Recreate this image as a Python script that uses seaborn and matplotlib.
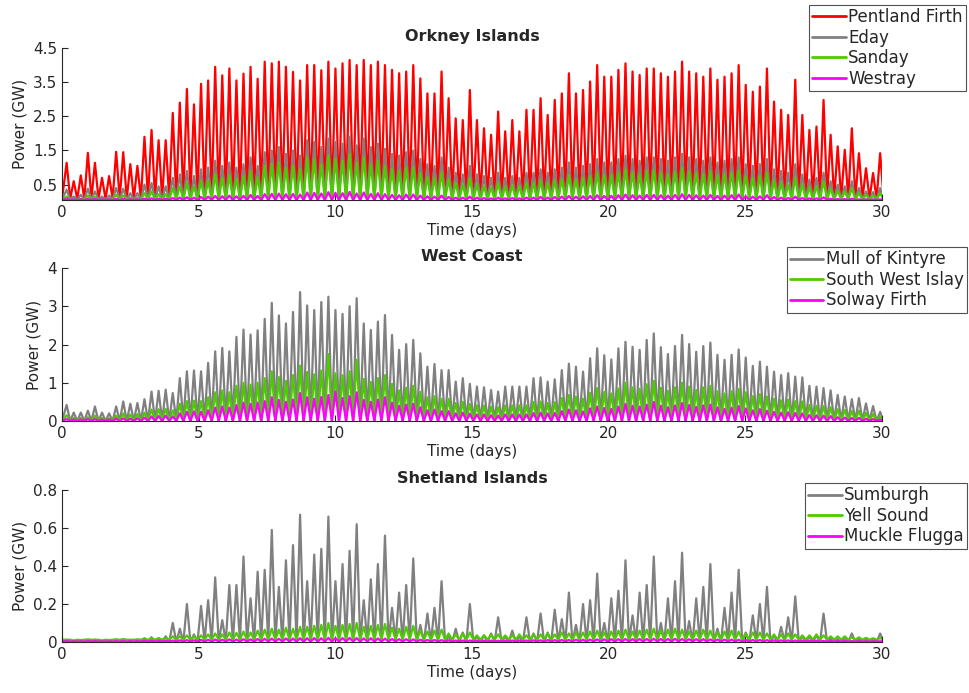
import numpy as np
import pandas as pd
import matplotlib
matplotlib.use("Agg")
import matplotlib.pyplot as plt
import seaborn as sns

# power peaks, one per half tidal cycle (~6.2 h) (GW)
period = 0.2588   # days between power peaks
t_first = 0.17    # time of first peak (days)

# --- Orkney Islands ---
pentland = [1.14, 0.6, 0.77, 1.43, 1.14, 0.7, 0.75, 1.46, 1.45, 1.1, 1.05, 1.9, 2.1, 1.8, 1.8, 2.6,
            2.9, 3.3, 2.85, 3.45, 3.55, 3.95, 3.7, 3.9, 3.55, 3.75, 3.95, 3.6, 4.1, 4.05, 4.1, 3.95,
            3.8, 3.55, 4.0, 4.0, 3.85, 4.1,
            3.9, 4.05, 4.15, 4.0, 4.15, 4.0, 4.1, 4.0, 3.86, 3.76, 3.81, 4.0, 3.61, 3.17, 3.17, 3.81,
            3.03, 2.44, 2.39, 3.27, 2.39, 2.15, 1.96, 2.64, 2.06, 2.39, 2.06, 2.69, 2.69, 3.03, 2.54,
            2.98, 3.17, 3.76, 3.17, 3.27, 3.52, 4.0,
            3.66, 3.66, 3.86, 4.05, 3.81, 3.71, 3.9, 3.9, 3.76, 3.66, 3.81, 4.1, 3.81, 3.76, 3.66, 3.9,
            3.57, 3.66, 3.76, 4.0, 3.42, 3.22, 3.37, 3.9, 2.93, 2.69, 2.54, 3.57, 2.54, 2.1, 2.2, 2.98,
            1.96, 1.62, 1.52, 2.15, 1.42, 0.98, 0.84, 1.42]
eday = [0.35, 0.15, 0.2, 0.38, 0.3, 0.15, 0.18, 0.4, 0.38, 0.25, 0.25, 0.5, 0.55, 0.45, 0.45, 0.7,
        0.8, 0.9, 0.75, 0.95, 1.0, 1.2, 1.05, 1.15, 1.0, 1.1, 1.3, 1.05, 1.45, 1.5, 1.6, 1.4,
        1.5, 1.35, 1.8, 1.75, 1.6, 1.85,
        1.75, 1.7, 1.9, 1.65, 1.85, 1.6, 1.7, 1.55, 1.4, 1.35, 1.45, 1.5, 1.25, 1.1, 1.05, 1.3,
        1.0, 0.85, 0.8, 1.05, 0.8, 0.75, 0.7, 0.85, 0.7, 0.75, 0.7, 0.85, 0.85, 0.95, 0.85, 0.95,
        1.0, 1.15, 1.0, 1.05, 1.1, 1.25,
        1.15, 1.15, 1.25, 1.35, 1.25, 1.2, 1.3, 1.3, 1.25, 1.2, 1.3, 1.4, 1.3, 1.25, 1.2, 1.3,
        1.15, 1.2, 1.25, 1.3, 1.1, 1.05, 1.1, 1.25, 0.95, 0.9, 0.85, 1.1, 0.8, 0.65, 0.7, 0.85,
        0.6, 0.5, 0.45, 0.6, 0.4, 0.3, 0.28, 0.4]
sanday = [0.15, 0.06, 0.08, 0.18, 0.14, 0.07, 0.08, 0.2, 0.18, 0.12, 0.12, 0.25, 0.3, 0.22, 0.22, 0.4,
          0.45, 0.55, 0.45, 0.6, 0.62, 0.8, 0.7, 0.78, 0.68, 0.75, 0.9, 0.72, 1.05, 1.1, 1.15, 1.0,
          1.05, 0.95, 1.3, 1.25, 1.1, 1.35,
          1.25, 1.2, 1.4, 1.15, 1.3, 1.1, 1.2, 1.05, 0.95, 0.9, 1.0, 1.0, 0.85, 0.72, 0.7, 0.85,
          0.65, 0.55, 0.5, 0.68, 0.5, 0.45, 0.42, 0.55, 0.45, 0.48, 0.45, 0.55, 0.55, 0.62, 0.55, 0.62,
          0.65, 0.78, 0.65, 0.7, 0.75, 0.85,
          0.78, 0.78, 0.85, 0.95, 0.85, 0.8, 0.9, 0.92, 0.85, 0.8, 0.88, 0.98, 0.88, 0.85, 0.8, 0.9,
          0.78, 0.8, 0.85, 0.92, 0.75, 0.7, 0.75, 0.85, 0.62, 0.55, 0.5, 0.7, 0.5, 0.42, 0.45, 0.6,
          0.38, 0.32, 0.3, 0.4, 0.25, 0.2, 0.18, 0.25]
westray = [0.08, 0.07, 0.07, 0.08, 0.08, 0.07, 0.07, 0.08, 0.08, 0.07, 0.07, 0.09, 0.1, 0.09, 0.09, 0.11,
           0.12, 0.13, 0.12, 0.14, 0.15, 0.17, 0.16, 0.18, 0.16, 0.17, 0.2, 0.17, 0.22, 0.23, 0.24, 0.22,
           0.23, 0.21, 0.27, 0.26, 0.24, 0.28,
           0.26, 0.25, 0.29, 0.24, 0.27, 0.23, 0.25, 0.22, 0.2, 0.19, 0.21, 0.21, 0.18, 0.16, 0.15, 0.18,
           0.14, 0.12, 0.12, 0.15, 0.12, 0.11, 0.1, 0.12, 0.1, 0.11, 0.1, 0.12, 0.12, 0.14, 0.12, 0.14,
           0.15, 0.17, 0.15, 0.16, 0.17, 0.19,
           0.17, 0.17, 0.19, 0.21, 0.19, 0.18, 0.2, 0.2, 0.19, 0.18, 0.2, 0.22, 0.2, 0.19, 0.18, 0.2,
           0.17, 0.18, 0.19, 0.21, 0.16, 0.15, 0.16, 0.19, 0.14, 0.12, 0.11, 0.15, 0.11, 0.1, 0.1, 0.13,
           0.09, 0.08, 0.08, 0.09, 0.07, 0.07, 0.07, 0.07]

# --- West Coast ---
kintyre = [0.42, 0.22, 0.22, 0.27, 0.38, 0.22, 0.2, 0.38, 0.51, 0.45, 0.47, 0.57, 0.77, 0.79, 0.82, 0.73,
           1.12, 1.3, 1.32, 1.3, 1.52, 1.82, 1.91, 1.82, 2.2, 2.39, 2.26, 2.37, 2.67, 3.09, 2.76, 2.55,
           2.85, 3.37, 3.02, 2.9, 3.11, 3.25, 2.9,
           2.8, 3.0, 3.21, 2.55, 2.38, 2.6, 2.77, 2.25, 1.86, 2.01, 2.12, 1.77, 1.42, 1.49, 1.33, 1.33,
           1.03, 1.12, 0.97, 0.9, 0.88, 0.81, 0.77, 0.9, 0.9, 0.9, 0.9, 1.12, 1.14, 1.03, 1.09, 1.33,
           1.5, 1.42, 1.29, 1.64, 1.9, 1.72,
           1.61, 1.9, 2.07, 1.94, 1.86, 2.12, 2.29, 1.93, 1.75, 1.96, 2.25, 2.01, 1.81, 1.96, 2.05, 1.73,
           1.6, 1.73, 1.87, 1.66, 1.44, 1.55, 1.42, 1.29, 1.2, 1.25, 1.16, 1.14, 0.92, 0.9, 0.86, 0.8,
           0.68, 0.64, 0.57, 0.6, 0.46, 0.39, 0.24]
islay = [0.15, 0.08, 0.08, 0.1, 0.14, 0.08, 0.07, 0.14, 0.2, 0.17, 0.18, 0.22, 0.3, 0.31, 0.32, 0.28,
         0.45, 0.52, 0.53, 0.52, 0.62, 0.75, 0.8, 0.75, 0.92, 1.0, 0.95, 1.0, 1.12, 1.3, 1.15, 1.05,
         1.2, 1.45, 1.28, 1.22, 1.32, 1.75,
         1.25, 1.2, 1.3, 1.6, 1.1, 1.02, 1.12, 1.2, 0.97, 0.8, 0.87, 0.92, 0.76, 0.62, 0.65, 0.58,
         0.58, 0.47, 0.5, 0.44, 0.41, 0.4, 0.37, 0.36, 0.41, 0.41, 0.41, 0.41, 0.5, 0.51, 0.47, 0.49,
         0.6, 0.68, 0.64, 0.58, 0.74, 0.86, 0.76,
         0.72, 0.85, 1.0, 0.88, 0.84, 0.96, 1.05, 0.87, 0.79, 0.88, 1.0, 0.9, 0.81, 0.88, 0.92, 0.78,
         0.72, 0.78, 0.84, 0.75, 0.65, 0.7, 0.64, 0.58, 0.54, 0.56, 0.52, 0.51, 0.42, 0.4, 0.39, 0.36,
         0.31, 0.29, 0.26, 0.27, 0.21, 0.18, 0.12]
solway = [0.05, 0.04, 0.04, 0.05, 0.05, 0.04, 0.04, 0.06, 0.07, 0.06, 0.07, 0.09, 0.12, 0.13, 0.14, 0.12,
          0.2, 0.24, 0.25, 0.24, 0.28, 0.35, 0.38, 0.35, 0.42, 0.48, 0.45, 0.48, 0.52, 0.62, 0.55, 0.5,
          0.56, 0.73, 0.62, 0.58, 0.63, 0.68,
          0.77, 0.6, 0.65, 0.75, 0.55, 0.5, 0.56, 0.62, 0.48, 0.4, 0.43, 0.45, 0.36, 0.28, 0.3, 0.26,
          0.26, 0.2, 0.22, 0.19, 0.17, 0.17, 0.15, 0.14, 0.17, 0.17, 0.17, 0.17, 0.21, 0.22, 0.2, 0.21,
          0.26, 0.3, 0.28, 0.25, 0.33, 0.38, 0.34,
          0.32, 0.38, 0.45, 0.4, 0.38, 0.43, 0.5, 0.4, 0.36, 0.41, 0.47, 0.42, 0.37, 0.41, 0.43, 0.36,
          0.32, 0.35, 0.39, 0.33, 0.28, 0.31, 0.27, 0.24, 0.22, 0.23, 0.21, 0.2, 0.16, 0.15, 0.14, 0.13,
          0.1, 0.09, 0.08, 0.08, 0.06, 0.05, 0.04]

# --- Shetland Islands ---
sumburgh = [0.012, 0.006, 0.006, 0.01, 0.012, 0.006, 0.006, 0.012, 0.015, 0.01, 0.012, 0.02, 0.025, 0.02, 0.03,
            0.1, 0.07, 0.2, 0.04, 0.19, 0.22, 0.34, 0.115, 0.3, 0.3, 0.45, 0.23, 0.37, 0.38, 0.59, 0.29,
            0.43, 0.51, 0.67, 0.32, 0.46, 0.49, 0.66, 0.32,
            0.41, 0.48, 0.62, 0.22, 0.33, 0.41, 0.56, 0.18, 0.26, 0.3, 0.44, 0.09, 0.15, 0.18, 0.32, 0.03,
            0.07, 0.05, 0.2, 0.03, 0.035, 0.045, 0.13, 0.03, 0.06, 0.03, 0.13, 0.045, 0.15, 0.05, 0.17, 0.12,
            0.26, 0.09, 0.2, 0.22, 0.36,
            0.1, 0.23, 0.27, 0.43, 0.14, 0.26, 0.3, 0.45, 0.1, 0.23, 0.32, 0.47, 0.11, 0.23, 0.29, 0.41,
            0.07, 0.18, 0.26, 0.38, 0.05, 0.14, 0.2, 0.29, 0.035, 0.08, 0.13, 0.24, 0.03, 0.03, 0.035, 0.15,
            0.02, 0.015, 0.015, 0.045, 0.015, 0.012, 0.012, 0.045]
yell = [0.012, 0.008, 0.01, 0.014, 0.012, 0.008, 0.01, 0.014, 0.015, 0.012, 0.014, 0.018, 0.02, 0.02, 0.022, 0.03,
        0.03, 0.035, 0.03, 0.035, 0.04, 0.045, 0.04, 0.05, 0.048, 0.055, 0.05, 0.06, 0.065, 0.07, 0.065, 0.075,
        0.07, 0.08, 0.08, 0.085, 0.09, 0.1,
        0.085, 0.09, 0.095, 0.1, 0.08, 0.085, 0.09, 0.095, 0.075, 0.07, 0.08, 0.085, 0.06, 0.055, 0.06, 0.065,
        0.045, 0.04, 0.045, 0.05, 0.035, 0.035, 0.04, 0.04, 0.035, 0.035, 0.04, 0.035, 0.04, 0.04, 0.045, 0.04,
        0.05, 0.045, 0.05, 0.05, 0.055, 0.06,
        0.05, 0.055, 0.06, 0.065, 0.055, 0.06, 0.065, 0.07, 0.06, 0.065, 0.07, 0.065, 0.055, 0.06, 0.065, 0.06,
        0.05, 0.055, 0.06, 0.055, 0.045, 0.05, 0.05, 0.045, 0.04, 0.04, 0.045, 0.04, 0.035, 0.035, 0.04, 0.035,
        0.03, 0.03, 0.03, 0.025, 0.025, 0.022, 0.02, 0.02]
muckle = [0.005, 0.004, 0.004, 0.005, 0.005, 0.004, 0.004, 0.005, 0.005, 0.005, 0.005, 0.006, 0.007, 0.006, 0.007, 0.008,
          0.009, 0.01, 0.009, 0.011, 0.012, 0.013, 0.012, 0.014, 0.013, 0.015, 0.014, 0.016, 0.017, 0.018, 0.017, 0.019,
          0.018, 0.02, 0.02, 0.021, 0.02, 0.022,
          0.02, 0.021, 0.022, 0.021, 0.019, 0.02, 0.019, 0.018, 0.016, 0.015, 0.015, 0.014, 0.012, 0.011, 0.011, 0.01,
          0.009, 0.008, 0.008, 0.008, 0.007, 0.007, 0.007, 0.007, 0.007, 0.008, 0.008, 0.008, 0.009, 0.009, 0.01, 0.01,
          0.011, 0.011, 0.012, 0.012, 0.013, 0.014,
          0.014, 0.015, 0.015, 0.016, 0.015, 0.016, 0.016, 0.017, 0.016, 0.016, 0.017, 0.016, 0.015, 0.015, 0.015, 0.014,
          0.013, 0.013, 0.013, 0.012, 0.011, 0.011, 0.011, 0.01, 0.009, 0.009, 0.009, 0.008, 0.007, 0.007, 0.007, 0.006,
          0.006, 0.005, 0.005, 0.005, 0.005, 0.004, 0.004, 0.004]

RED, GREY, GREEN, MAGENTA = "#ff0000", "#808080", "#4ccc00", "#ff00ff"

# (title, [(site, peaks, slack-water level, colour)], yticks, ylim, legend top-right corner in px)
panels = [
    ("Orkney Islands",
     [("Pentland Firth", pentland, 0.08, RED), ("Eday", eday, 0.06, GREY),
      ("Sanday", sanday, 0.06, GREEN), ("Westray", westray, 0.05, MAGENTA)],
     [0.5, 1.5, 2.5, 3.5, 4.5], (0.05, 4.5), (966, 5)),
    ("West Coast",
     [("Mull of Kintyre", kintyre, 0.0, GREY), ("South West Islay", islay, 0.0, GREEN),
      ("Solway Firth", solway, 0.0, MAGENTA)],
     [0, 1, 2, 3, 4], (0, 4), (967, 247)),
    ("Shetland Islands",
     [("Sumburgh", sumburgh, 0.0, GREY), ("Yell Sound", yell, 0.012, GREEN),
      ("Muckle Flugga", muckle, 0.002, MAGENTA)],
     [0, 0.2, 0.4, 0.6, 0.8], (0, 0.8), (967, 483)),
]


def tide_frame(name, peaks, slack):
    peaks = np.asarray(peaks, dtype=float)
    tp = t_first + period * np.arange(len(peaks))
    t = np.empty(2 * len(peaks) + 1)
    p = np.empty_like(t)
    t[0], p[0] = 0.0, slack
    t[1::2], p[1::2] = tp, peaks
    t[2::2], p[2::2] = tp + period / 2, slack
    return pd.DataFrame({"t": t, "p": p, "site": name})


sns.set_style("ticks")
plt.rcParams["font.family"] = ["DejaVu Sans"]
plt.rcParams["axes.edgecolor"] = "#262626"

W, H = 970, 693
fig = plt.figure(figsize=(W / 100, H / 100), dpi=100)
boxes = [(48, 200), (268, 421), (490, 642)]

for (title, series, yticks, ylim, leg), (top, bot) in zip(panels, boxes):
    ax = fig.add_axes([62 / W, 1 - bot / H, 820 / W, (bot - top) / H])
    df = pd.concat([tide_frame(n, pk, s) for n, pk, s, c in series], ignore_index=True)
    pal = {n: c for n, pk, s, c in series}
    sns.lineplot(data=df, x="t", y="p", hue="site", palette=pal, ax=ax,
                 estimator=None, sort=False, linewidth=1.6)
    ax.set_xlim(0, 30)
    ax.set_ylim(*ylim)
    ax.set_xticks([0, 5, 10, 15, 20, 25, 30])
    ax.set_yticks(yticks)
    ax.set_yticklabels([f"{v:g}" for v in yticks])
    ax.tick_params(direction="in", length=4, labelsize=11, colors="#262626", labelcolor="#262626")
    sns.despine(ax=ax)
    ax.set_xlabel("Time (days)", fontsize=11, color="#262626", labelpad=2)
    ax.set_ylabel("Power (GW)", fontsize=11, color="#262626", labelpad=4)
    ax.set_title(title, fontsize=11.5, fontweight="bold", pad=5)
    ax.get_legend().remove()
    handles, labels = ax.get_legend_handles_labels()
    lg = ax.legend(handles, labels, loc="upper right",
                   bbox_to_anchor=(leg[0] / W, 1 - leg[1] / H), bbox_transform=fig.transFigure,
                   fontsize=12, frameon=True, fancybox=False, edgecolor="#262626",
                   handlelength=2.0, handletextpad=0.15, labelspacing=0.15,
                   borderpad=0.2, borderaxespad=0)
    lg.get_frame().set_linewidth(0.8)
    for line in lg.get_lines():
        line.set_linewidth(2)

fig.savefig("out.png", dpi=100)
